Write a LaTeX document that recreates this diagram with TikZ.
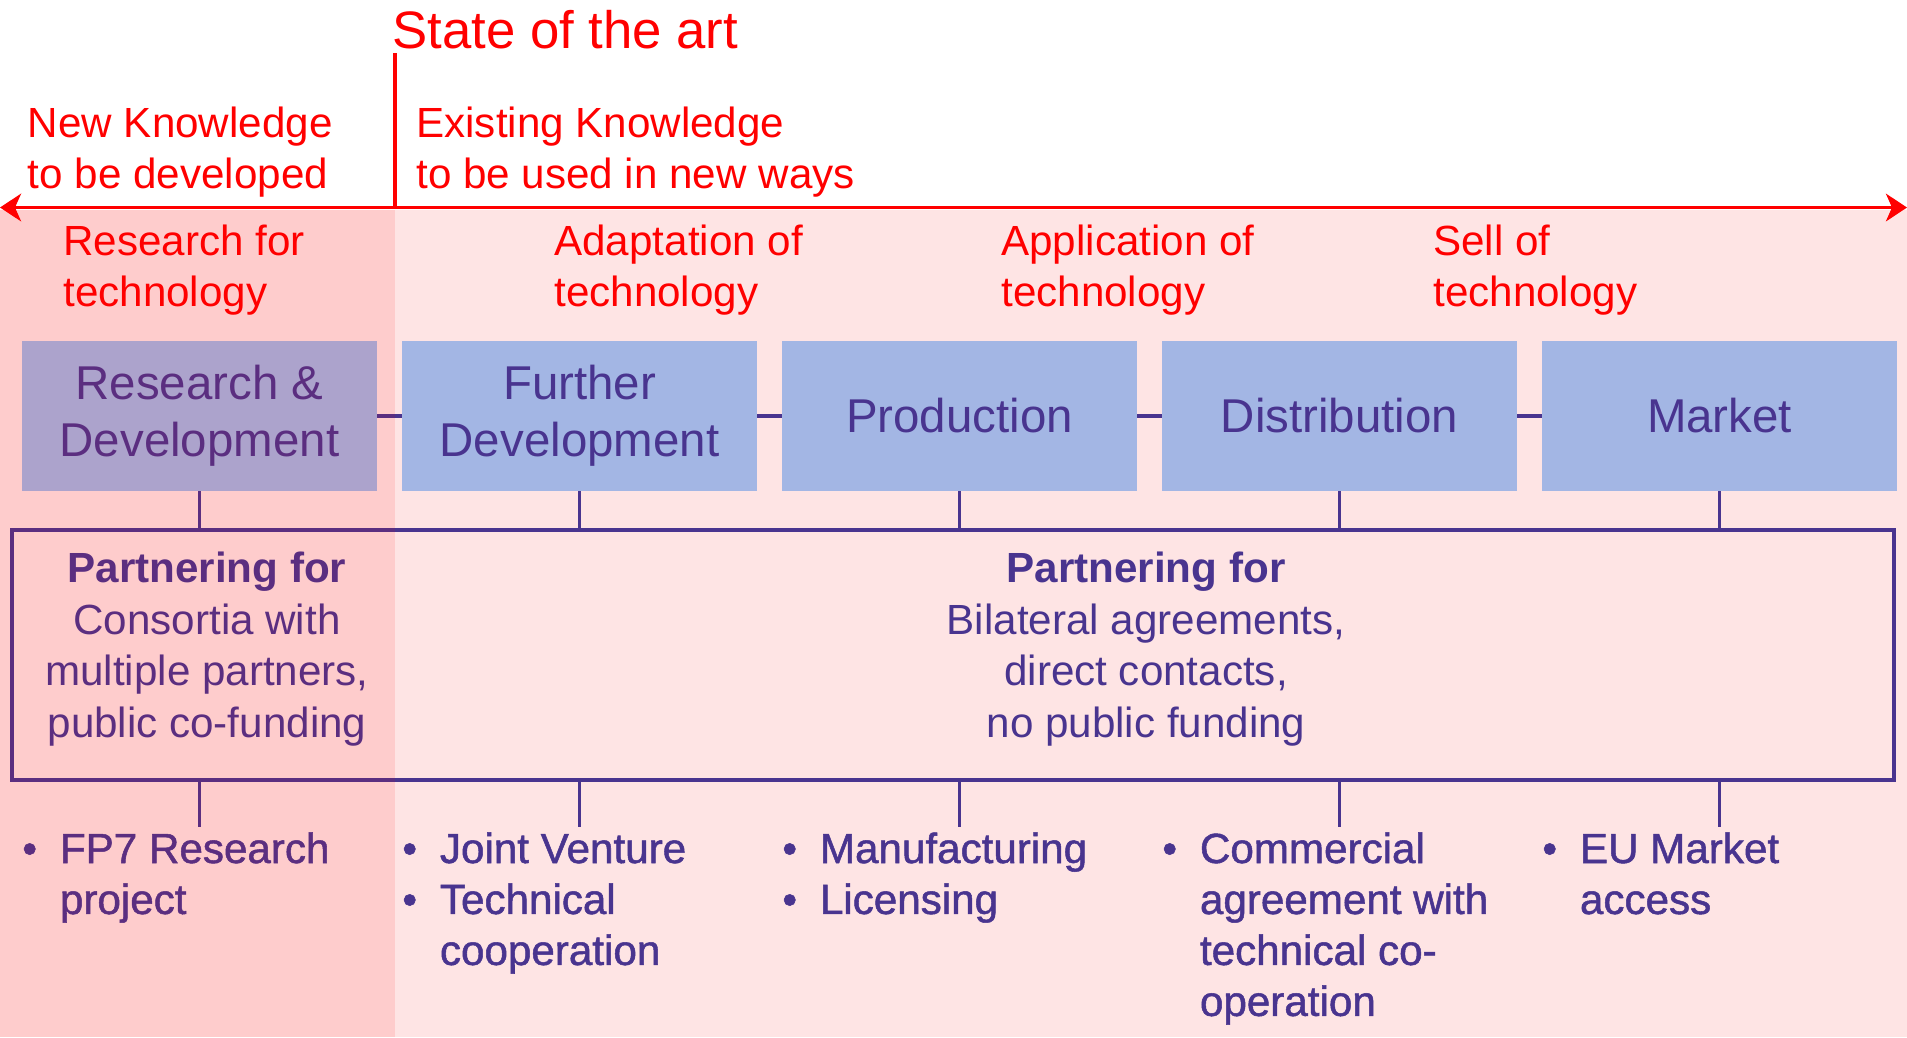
\documentclass[tikz,border=0pt]{standalone}
\usepackage{fontspec}
\setmainfont{Liberation Sans}
\newfontfamily\bulletfont[FakeBold=1.2]{Liberation Sans}
\usepackage{xcolor}
\usetikzlibrary{arrows.meta, positioning}
\definecolor{ink}{RGB}{73,52,143}
\definecolor{boxblue}{RGB}{163,182,228}
\definecolor{paleback}{RGB}{254,228,228}
\tikzstyle{stage} = [rectangle, minimum width=7.1cm, minimum height=3cm, inner sep=0pt, outer sep=0pt, align=center, fill=boxblue, text=ink, font=\fontsize{27}{32.4}\selectfont]
\tikzstyle{redtext} = [anchor=base west, inner sep=0pt, align=left, text=red, font=\fontsize{24}{29}\selectfont]
\tikzstyle{partnertext} = [anchor=base, inner sep=0pt, align=center, text=ink, font=\fontsize{24}{29.3}\selectfont]
\tikzstyle{bullets} = [anchor=base west, inner sep=0pt, text=ink, font=\bulletfont\fontsize{24}{29}\selectfont]
\tikzstyle{frame} = [rectangle, draw=ink, line width=2pt, minimum width=37.64cm, minimum height=5cm, inner sep=0pt]
\tikzstyle{link} = [draw=ink, line width=2pt]
\tikzstyle{timeline} = [red, line width=2.2pt, >={Stealth[length=0.42cm,width=0.55cm,inset=0.12cm]}]

\begin{document}
\begin{tikzpicture}[node distance=0.5cm]
\useasboundingbox (0,0) rectangle (38.14,-20.74);
\fill[paleback] (0,-4.2) rectangle (38.14,-20.74);

% Knowledge axis
\coordinate (axis-left) at (0,-4.15);
\coordinate (axis-right) at (38.14,-4.15);
\coordinate (sota) at (7.9,-1.06);
\draw[timeline, <->] (axis-left) -- (axis-right);
\draw[red, line width=2pt] (sota) -- (sota |- axis-left);
\node (sota-label) [redtext, font=\fontsize{30}{36}\selectfont] at (7.84,-0.96) {State of the art};
\node (new-knowledge) [redtext] at (0.55,-3.76) {New Knowledge\\to be developed};
\node (old-knowledge) [redtext] at (8.32,-3.76) {Existing Knowledge\\to be used in new ways};

% Technology phases
\node (ph-research) [redtext] at (1.26,-6.12) {Research for\\technology};
\node (ph-adapt) [redtext] at (11.08,-6.12) {Adaptation of\\technology};
\node (ph-apply) [redtext] at (20.02,-6.12) {Application of\\technology};
\node (ph-sell) [redtext] at (28.66,-6.12) {Sell of\\technology};

% Value chain
\node (rd) [stage] at (3.99,-8.32) {Research \&\\Development};
\node (fd) [stage, right=of rd] {Further\\Development};
\node (prod) [stage, right=of fd] {Production};
\node (dist) [stage, right=of prod] {Distribution};
\node (market) [stage, right=of dist] {Market};
\draw[link] (rd) -- (fd);
\draw[link] (fd) -- (prod);
\draw[link] (prod) -- (dist);
\draw[link] (dist) -- (market);

% Partnering
\node (partner) [frame] at (19.06,-13.1) {};
\node (partner-eu) [partnertext] at (4.14,-14.74) {\textbf{Partnering for}\\Consortia with\\multiple partners,\\public co-funding};
\node (partner-bi) [partnertext] at (22.92,-14.74) {\textbf{Partnering for}\\Bilateral agreements,\\direct contacts,\\no public funding};

% Instruments
\coordinate (list-top) at (0,-17.26);
\node (list-rd) [bullets] at (rd.west |- list-top) {\begin{tabular}[t]{@{}l@{\hspace{13pt}}l@{}}•&FP7 Research\\&project\end{tabular}};
\node (list-fd) [bullets] at (fd.west |- list-top) {\begin{tabular}[t]{@{}l@{\hspace{13pt}}l@{}}•&Joint Venture\\•&Technical\\&cooperation\end{tabular}};
\node (list-prod) [bullets] at (prod.west |- list-top) {\begin{tabular}[t]{@{}l@{\hspace{13pt}}l@{}}•&Manufacturing\\•&Licensing\end{tabular}};
\node (list-dist) [bullets] at (dist.west |- list-top) {\begin{tabular}[t]{@{}l@{\hspace{13pt}}l@{}}•&Commercial\\&agreement with\\&technical co-\\&operation\end{tabular}};
\node (list-market) [bullets] at (market.west |- list-top) {\begin{tabular}[t]{@{}l@{\hspace{13pt}}l@{}}•&EU Market\\&access\end{tabular}};

% Links down the chain
\draw[link] (rd.south) -- (rd |- partner.north);
\draw[link] (fd.south) -- (fd |- partner.north);
\draw[link] (prod.south) -- (prod |- partner.north);
\draw[link] (dist.south) -- (dist |- partner.north);
\draw[link] (market.south) -- (market |- partner.north);
\draw[link] (rd |- partner.south) -- (rd |- list-rd.north);
\draw[link] (fd |- partner.south) -- (fd |- list-fd.north);
\draw[link] (prod |- partner.south) -- (prod |- list-prod.north);
\draw[link] (dist |- partner.south) -- (dist |- list-dist.north);
\draw[link] (market |- partner.south) -- (market |- list-market.north);

% Research zone
\fill[red, opacity=0.1] (0,-4.2) rectangle (7.9,-20.74);
\end{tikzpicture}
\end{document}
